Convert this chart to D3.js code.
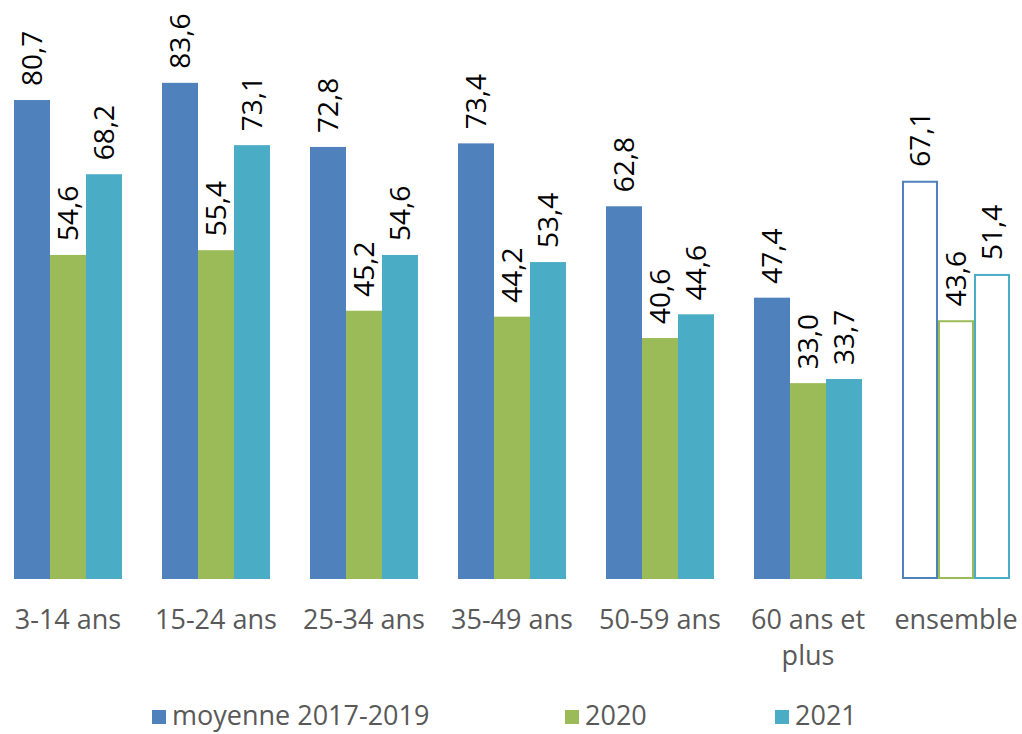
<!DOCTYPE html>
<html lang="fr">
<head>
<meta charset="UTF-8">
<title>Chart</title>
<script src="https://d3js.org/d3.v7.min.js"></script>
<style>
  body { margin: 0; background: #fff; font-family: "Open Sans", Arial, sans-serif; }
  .cat-label { font-size: 27px; fill: #595959; }
  .val-label { font-size: 28px; fill: #000; }
  .legend-label { font-size: 27px; fill: #595959; }
</style>
</head>
<body>
<div id="chart"></div>
<script>
  const categories = ['3-14 ans', '15-24 ans', '25-34 ans', '35-49 ans', '50-59 ans', '60 ans et|plus', 'ensemble'];
  const seriesNames = ['moyenne 2017-2019', '2020', '2021'];
  const avg1719 = [80.7, 83.6, 72.8, 73.4, 62.8, 47.4, 67.1];
  const v2020 = [54.6, 55.4, 45.2, 44.2, 40.6, 33.0, 43.6];
  const v2021 = [68.2, 73.1, 54.6, 53.4, 44.6, 33.7, 51.4];
  const colors = ['#4F81BD', '#9BBB59', '#4BACC6'];

  const width = 1022, height = 734;
  const svg = d3.select('#chart').append('svg')
    .attr('width', width).attr('height', height);

  const x = d3.scaleBand().domain(categories).range([-6, 1030]).paddingInner(0.27).paddingOuter(0.135);
  const xs = d3.scaleBand().domain(seriesNames).range([0, x.bandwidth()]);
  const y = d3.scaleLinear().domain([0, 100]).range([579, -14.5]);

  const allSeries = [avg1719, v2020, v2021];
  const rows = [];
  categories.forEach((c, i) => {
    seriesNames.forEach((s, j) => {
      rows.push({ cat: c, series: s, value: allSeries[j][i], color: colors[j], outline: c === 'ensemble' });
    });
  });

  const fmt = v => v.toFixed(1).replace('.', ',');

  // bars (ensemble drawn as outlines only)
  svg.selectAll('.bar').data(rows).enter().append('rect')
    .attr('class', 'bar')
    .attr('x', d => x(d.cat) + xs(d.series) + (d.outline ? 1 : 0))
    .attr('y', d => y(d.value) + (d.outline ? 1 : 0))
    .attr('width', d => xs.bandwidth() - (d.outline ? 2 : 0))
    .attr('height', d => y(0) - y(d.value) - (d.outline ? 2 : 0))
    .attr('fill', d => d.outline ? '#fff' : d.color)
    .attr('stroke', d => d.outline ? d.color : 'none')
    .attr('stroke-width', 2);

  // value labels, rotated
  svg.selectAll('.val-label').data(rows).enter().append('text')
    .attr('class', 'val-label')
    .attr('transform', d => `translate(${x(d.cat) + xs(d.series) + xs.bandwidth() / 2 + 10},${y(d.value) - 14}) rotate(-90)`)
    .attr('text-anchor', 'start')
    .text(d => fmt(d.value));

  // category labels
  const catG = svg.selectAll('.cat').data(categories).enter().append('text')
    .attr('class', 'cat-label')
    .attr('text-anchor', 'middle')
    .attr('x', d => x(d) + x.bandwidth() / 2)
    .attr('y', 629);
  catG.selectAll('tspan').data(d => d.split('|').map(t => ({ t, cx: x(d) + x.bandwidth() / 2 })))
    .enter().append('tspan')
    .attr('x', d => d.cx)
    .attr('dy', (d, i) => i === 0 ? 0 : 36)
    .text(d => d.t);

  // legend
  const legendX = [152, 565, 775];
  const lg = svg.selectAll('.legend').data(seriesNames).enter().append('g')
    .attr('transform', (d, i) => `translate(${legendX[i]},710)`);
  lg.append('rect').attr('width', 14).attr('height', 14).attr('fill', (d, i) => colors[i]);
  lg.append('text').attr('class', 'legend-label').attr('x', 20).attr('y', 15).text(d => d);
</script>
</body>
</html>
